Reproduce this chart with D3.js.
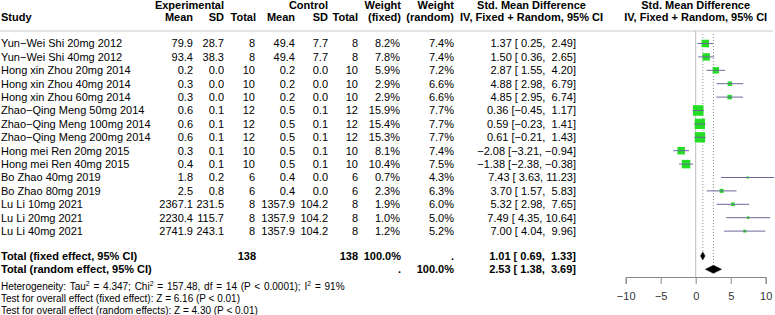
<!DOCTYPE html>
<html>
<head>
<meta charset="utf-8">
<script src="https://cdn.jsdelivr.net/npm/d3@7"></script>
<style>
body { margin: 0; background: #fff; }
text { font-family: "Liberation Sans", Arial, sans-serif; white-space: pre; }
</style>
</head>
<body>
<div id="forest"></div>
<script>
// study rows
var studies = ["Yun−Wei Shi 20mg 2012", "Yun−Wei Shi 40mg 2012", "Hong xin Zhou 20mg 2014",
    "Hong xin Zhou 40mg 2014", "Hong xin Zhou 60mg 2014", "Zhao−Qing Meng 50mg 2014",
    "Zhao−Qing Meng 100mg 2014", "Zhao−Qing Meng 200mg 2014", "Hong mei Ren 20mg 2015",
    "Hong mei Ren 40mg 2015", "Bo Zhao 40mg 2019", "Bo Zhao 80mg 2019",
    "Lu Li 10mg 2021", "Lu Li 20mg 2021", "Lu Li 40mg 2021"];
var expMean = [79.9, 93.4, 0.2, 0.3, 0.3, 0.6, 0.6, 0.6, 0.3, 0.4, 1.8, 2.5, 2367.1, 2230.4, 2741.9];
var expSD = [28.7, 38.3, 0.0, 0.0, 0.0, 0.1, 0.1, 0.1, 0.1, 0.1, 0.2, 0.8, 231.5, 115.7, 243.1];
var expN = [8, 8, 10, 10, 10, 12, 12, 12, 10, 10, 6, 6, 8, 8, 8];
var ctlMean = [49.4, 49.4, 0.2, 0.2, 0.2, 0.5, 0.5, 0.5, 0.5, 0.5, 0.4, 0.4, 1357.9, 1357.9, 1357.9];
var ctlSD = [7.7, 7.7, 0.0, 0.0, 0.0, 0.1, 0.1, 0.1, 0.1, 0.1, 0.0, 0.0, 104.2, 104.2, 104.2];
var ctlN = [8, 8, 10, 10, 10, 12, 12, 12, 10, 10, 6, 6, 8, 8, 8];
var wFixed = [8.2, 7.8, 5.9, 2.9, 2.9, 15.9, 15.4, 15.3, 8.1, 10.4, 0.7, 2.3, 1.9, 1.0, 1.2];
var wRandom = [7.4, 7.4, 7.2, 6.6, 6.6, 7.7, 7.7, 7.7, 7.4, 7.5, 4.3, 6.3, 6.0, 5.0, 5.2];
var smd = [1.37, 1.50, 2.87, 4.88, 4.85, 0.36, 0.59, 0.61, -2.08, -1.38, 7.43, 3.70, 5.32, 7.49, 7.00];
var lower = [0.25, 0.36, 1.55, 2.98, 2.95, -0.45, -0.23, -0.21, -3.21, -2.38, 3.63, 1.57, 2.98, 4.35, 4.04];
var upper = [2.49, 2.65, 4.20, 6.79, 6.74, 1.17, 1.41, 1.43, -0.94, -0.38, 11.23, 5.83, 7.65, 10.64, 9.96];

// pooled results
var pooledLabels = ["Total (fixed effect, 95% CI)", "Total (random effect, 95% CI)"];
var pooledEst = [1.01, 2.53];
var pooledLower = [0.69, 1.38];
var pooledUpper = [1.33, 3.69];
var totalExpN = 138, totalCtlN = 138;

var axisTicks = [-10, -5, 0, 5, 10];
var footnotes = [
    [["Heterogeneity: Tau"], ["2", "sup"], [" = 4.347; Chi"], ["2", "sup"], [" = 157.48, df = 14 (P < 0.0001); I"], ["2", "sup"], [" = 91%"]],
    [["Test for overall effect (fixed effect): Z = 6.16 (P < 0.01)"]],
    [["Test for overall effect (random effects): Z = 4.30 (P < 0.01)"]]
];

var width = 775, height = 315;
var svg = d3.select("#forest").append("svg")
    .attr("width", width)
    .attr("height", height);

var f1 = d3.format(".1f"), f2 = d3.format(".2f");
function pad(s, n) { while (s.length < n) s = " " + s; return s; }
function ciText(e, l, u) {
    return f2(e) + " [" + pad(f2(l), 5) + ", " + pad(f2(u), 5) + "]";
}

var yRow = d3.scaleLinear().domain([0, 1]).range([43.5, 56.9]);
var xForest = d3.scaleLinear().domain([-10, 10]).range([625.7, 765.7]);

function txt(x, y, s, anchor, bold, size) {
    return svg.append("text")
        .attr("x", x)
        .attr("y", y + 3.9)
        .attr("text-anchor", anchor || "start")
        .attr("font-size", size || 11)
        .attr("font-weight", bold ? "bold" : "normal")
        .attr("fill", "#000")
        .text(s);
}

// header
txt(224, 5, "Experimental", "end", true);
txt(328, 5, "Control", "end", true);
txt(401, 5, "Weight", "end", true);
txt(454, 5, "Weight", "end", true);
txt(531.5, 5, "Std. Mean Difference", "middle", true);
txt(xForest(0), 5, "Std. Mean Difference", "middle", true);
var hy = 17.5;
txt(1, hy, "Study", "start", true);
txt(193, hy, "Mean", "end", true);
txt(224, hy, "SD", "end", true);
txt(256, hy, "Total", "end", true);
txt(295, hy, "Mean", "end", true);
txt(328, hy, "SD", "end", true);
txt(358, hy, "Total", "end", true);
txt(401, hy, "(fixed)", "end", true);
txt(454, hy, "(random)", "end", true);
txt(531.5, hy, "IV, Fixed + Random, 95% CI", "middle", true);
txt(xForest(0), hy, "IV, Fixed + Random, 95% CI", "middle", true);

svg.append("line")
    .attr("x1", 0).attr("x2", 773)
    .attr("y1", 31).attr("y2", 31)
    .attr("stroke", "#c8c8c8").attr("stroke-width", 1);

// study rows
studies.forEach(function(s, i) {
    var y = yRow(i);
    txt(1, y, s);
    txt(193, y, f1(expMean[i]), "end");
    txt(224, y, f1(expSD[i]), "end");
    txt(255, y, String(expN[i]), "end");
    txt(295, y, f1(ctlMean[i]), "end");
    txt(328, y, f1(ctlSD[i]), "end");
    txt(358, y, String(ctlN[i]), "end");
    txt(400, y, f1(wFixed[i]) + "%", "end");
    txt(454, y, f1(wRandom[i]) + "%", "end");
    txt(576, y, ciText(smd[i], lower[i], upper[i]), "end");
});

// pooled rows
var yFix = yRow(15.85), yRan = yRow(16.85);
txt(1, yFix, pooledLabels[0], "start", true);
txt(256, yFix, String(totalExpN), "end", true);
txt(358, yFix, String(totalCtlN), "end", true);
txt(401, yFix, "100.0%", "end", true);
txt(454, yFix, ".", "end", true);
txt(576, yFix, ciText(pooledEst[0], pooledLower[0], pooledUpper[0]), "end", true);
txt(1, yRan, pooledLabels[1], "start", true);
txt(401, yRan, ".", "end", true);
txt(454, yRan, "100.0%", "end", true);
txt(576, yRan, ciText(pooledEst[1], pooledLower[1], pooledUpper[1]), "end", true);

// footnotes
var footY = [282.5, 294.6, 306.5];
footnotes.forEach(function(parts, i) {
    var t = svg.append("text")
        .attr("x", 1)
        .attr("y", footY[i] + 3.6)
        .attr("font-size", 10)
        .attr("fill", "#000");
    if (i === 0) t.attr("word-spacing", 1);
    parts.forEach(function(p) {
        if (p[1] === "sup") {
            t.append("tspan").attr("font-size", 7).attr("dy", -4).text(p[0]);
        } else {
            t.append("tspan").attr("dy", t.selectAll("tspan").size() > 0 ? 4 : 0).text(p[0]);
        }
    });
});

// forest plot
var g = svg.append("g");
g.append("line")
    .attr("x1", xForest(0)).attr("x2", xForest(0))
    .attr("y1", 31).attr("y2", 277)
    .attr("stroke", "#bdbdbd").attr("stroke-width", 1);
g.append("line")
    .attr("x1", xForest(pooledEst[0])).attr("x2", xForest(pooledEst[0]))
    .attr("y1", 34).attr("y2", yFix - 4)
    .attr("stroke", "#8a8a8a").attr("stroke-dasharray", "1,2");
g.append("line")
    .attr("x1", xForest(pooledEst[1])).attr("x2", xForest(pooledEst[1]))
    .attr("y1", 34).attr("y2", yRan - 4)
    .attr("stroke", "#8a8a8a").attr("stroke-dasharray", "1,2");

var boxSize = d3.scaleSqrt().domain([0, d3.max(wFixed)]).range([0, 10.5]);
g.selectAll("rect.box")
    .data(studies)
    .join("rect")
    .attr("class", "box")
    .attr("x", function(d, i) { return xForest(smd[i]) - boxSize(wFixed[i]) / 2; })
    .attr("y", function(d, i) { return yRow(i) - boxSize(wFixed[i]) / 2; })
    .attr("width", function(d, i) { return boxSize(wFixed[i]); })
    .attr("height", function(d, i) { return boxSize(wFixed[i]); })
    .attr("fill", "#22dd22");
g.selectAll("line.ci")
    .data(studies)
    .join("line")
    .attr("class", "ci")
    .attr("x1", function(d, i) { return xForest(lower[i]); })
    .attr("x2", function(d, i) { return xForest(upper[i]); })
    .attr("y1", function(d, i) { return yRow(i); })
    .attr("y2", function(d, i) { return yRow(i); })
    .attr("stroke", "#6a6a9c").attr("stroke-width", 1);

// diamonds
[yFix, yRan].forEach(function(y, k) {
    var pts = [[xForest(pooledLower[k]), y], [xForest(pooledEst[k]), y - 4],
               [xForest(pooledUpper[k]), y], [xForest(pooledEst[k]), y + 4]];
    g.append("path")
        .attr("d", d3.line()(pts) + "Z")
        .attr("fill", "#000").attr("stroke", "#000").attr("stroke-width", 0.5);
});

// x axis
var axisY = 277;
var ax = g.append("g")
    .attr("transform", "translate(0," + axisY + ")")
    .call(d3.axisBottom(xForest).tickValues(axisTicks).tickSize(7).tickPadding(8)
        .tickFormat(d3.format("d")));
ax.select(".domain").attr("stroke", "#888");
ax.selectAll(".tick line").attr("stroke", "#888");
ax.selectAll(".tick text")
    .attr("font-family", "Liberation Sans, Arial, sans-serif")
    .attr("font-size", 11)
    .attr("fill", "#333");
</script>
</body>
</html>
